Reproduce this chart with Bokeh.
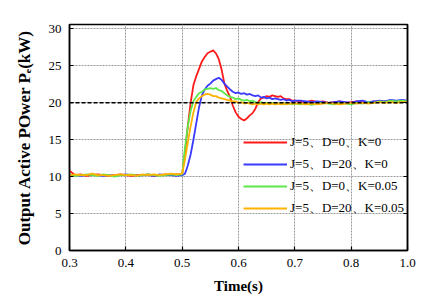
from bokeh.plotting import figure
from bokeh.models import (Span, Legend, LegendItem, LinearAxis, FixedTicker,
                          CustomJSTickFormatter, Range1d)
from bokeh.embed import file_html
from bokeh.resources import INLINE

# ---------------- data ----------------
time_s = [
    0.30, 0.31, 0.32, 0.33, 0.34, 0.35, 0.36, 0.37, 0.38, 0.39, 0.40,
    0.41, 0.42, 0.43, 0.44, 0.45, 0.46, 0.47, 0.48, 0.49, 0.50,
    0.505, 0.510, 0.515, 0.520, 0.525, 0.530, 0.535, 0.540, 0.545, 0.550,
    0.555, 0.560, 0.565, 0.570, 0.575, 0.580, 0.585, 0.590, 0.595, 0.600,
    0.605, 0.610, 0.615, 0.620, 0.625, 0.630, 0.635, 0.640, 0.645, 0.650,
    0.655, 0.660, 0.665, 0.670, 0.675, 0.680, 0.685, 0.690, 0.695, 0.700,
    0.71, 0.72, 0.73, 0.74, 0.75, 0.76, 0.77, 0.78, 0.79, 0.80,
    0.81, 0.82, 0.83, 0.84, 0.85, 0.86, 0.87, 0.88, 0.89, 0.90,
]

p_j5_d0_k0 = [
    10.8, 10.2, 10.3, 10.1, 10.2, 10.3, 10.2, 10.1, 10.2, 10.3, 10.2,
    10.1, 10.2, 10.2, 10.3, 10.1, 10.2, 10.3, 10.2, 10.3, 10.3,
    13.3, 16.8, 20.0, 22.4, 23.6, 24.6, 25.6, 26.2, 26.7, 26.9,
    27.1, 26.7, 25.9, 24.5, 22.6, 21.6, 20.8, 19.6, 18.7, 18.1,
    17.8, 17.6, 17.9, 18.3, 18.6, 19.2, 20.1, 20.6, 20.7, 20.9,
    20.8, 21.0, 20.9, 20.8, 20.9, 20.6, 20.5, 20.5, 20.3, 20.3,
    20.2, 20.1, 20.3, 20.1, 20.2, 20.0, 20.1, 20.2, 20.0, 20.1,
    20.2, 20.1, 20.0, 20.2, 20.1, 20.2, 20.3, 20.2, 20.3, 20.2,
]
p_j5_d20_k0 = [
    10.1, 10.2, 10.1, 10.2, 10.3, 10.2, 10.1, 10.2, 10.1, 10.2, 10.3,
    10.2, 10.1, 10.2, 10.2, 10.1, 10.3, 10.2, 10.2, 10.1, 10.2,
    10.4, 11.5, 13.0, 15.0, 17.2, 19.4, 21.0, 21.8, 22.3, 22.6,
    23.0, 23.2, 23.4, 23.1, 22.6, 22.2, 21.8, 21.5, 21.3, 21.4,
    21.2, 21.3, 21.1, 21.2, 21.0, 20.9, 21.0, 20.7, 20.8, 20.6,
    20.7, 20.5, 20.6, 20.5, 20.4, 20.5, 20.3, 20.4, 20.2, 20.3,
    20.3, 20.2, 20.1, 20.2, 20.1, 20.0, 20.1, 20.2, 20.1, 20.0,
    20.2, 20.3, 20.1, 20.2, 20.3, 20.2, 20.4, 20.3, 20.4, 20.3,
]
p_j5_d0_k005 = [
    10.3, 10.1, 10.2, 10.3, 10.2, 10.1, 10.3, 10.2, 10.0, 10.2, 10.2,
    10.3, 10.1, 10.2, 10.3, 10.2, 10.1, 10.2, 10.3, 10.2, 10.3,
    13.9, 16.8, 18.9, 20.2, 20.8, 21.3, 21.5, 21.8, 21.9, 22.0,
    21.9, 22.0, 21.7, 21.6, 21.3, 21.0, 20.8, 20.7, 20.5, 20.6,
    20.4, 20.3, 20.4, 20.2, 20.3, 20.1, 20.0, 20.1, 19.9, 20.0,
    19.9, 20.0, 19.8, 19.9, 19.9, 19.8, 20.0, 19.9, 19.8, 19.9,
    19.8, 19.9, 19.7, 19.9, 20.0, 19.9, 19.8, 20.0, 19.9, 19.8,
    20.0, 19.9, 20.1, 20.0, 20.2, 20.1, 20.3, 20.2, 20.3, 20.2,
]
p_j5_d20_k005 = [
    10.2, 10.3, 10.2, 10.2, 10.4, 10.2, 10.2, 10.1, 10.2, 10.3, 10.2,
    10.2, 10.1, 10.3, 10.2, 10.3, 10.2, 10.3, 10.4, 10.3, 10.4,
    12.3, 14.6, 16.8, 18.7, 20.1, 20.6, 20.9, 21.1, 21.2, 21.1,
    20.9, 20.9, 20.7, 20.6, 20.5, 20.4, 20.3, 20.2, 20.2, 20.0,
    20.1, 19.9, 20.0, 19.9, 19.8, 19.9, 19.8, 19.9, 19.8, 19.9,
    19.8, 19.9, 19.8, 19.9, 19.8, 19.9, 19.8, 19.9, 19.9, 19.9,
    19.9, 19.8, 19.9, 19.8, 19.9, 20.0, 19.9, 19.8, 19.9, 20.0,
    19.9, 20.0, 19.9, 20.0, 20.1, 20.0, 20.1, 20.0, 20.1, 20.1,
]

series_labels = ["J=5、D=0、K=0", "J=5、D=20、K=0", "J=5、D=0、K=0.05", "J=5、D=20、K=0.05"]
series_colors = ["#ff1a1a", "#3a3aff", "#5ee84a", "#ffb300"]

reference_power = 20

x_ticks = [0.3, 0.4, 0.5, 0.6, 0.7, 0.8, 0.9]
x_tick_labels = ["0.3", "0.4", "0.5", "0.6", "0.7", "0.8", "1.0"]
y_ticks = [0, 5, 10, 15, 20, 25, 30]

x_title = "Time(s)"
y_title = "Output Active POwer Pₑ(kW)"

# ---------------- figure ----------------
SERIF = "Liberation Serif"

p = figure(width=433, height=300, output_backend="svg", toolbar_location=None,
           x_range=Range1d(0.3, 0.9), y_range=Range1d(0, 30.6),
           min_border_left=69, min_border_right=26, min_border_top=24, min_border_bottom=50)
p.outline_line_color = "black"
p.outline_line_width = 1.5
p.background_fill_color = "white"
p.border_fill_color = "white"

p.xaxis.ticker = FixedTicker(ticks=x_ticks)
p.xaxis.major_label_overrides = {t: l for t, l in zip(x_ticks, x_tick_labels)}
p.yaxis.ticker = FixedTicker(ticks=y_ticks)
for ax in (p.xaxis[0], p.yaxis[0]):
    ax.axis_line_color = "black"
    ax.axis_line_width = 1.5
    ax.major_tick_in = 4
    ax.major_tick_out = 0
    ax.major_tick_line_color = "black"
    ax.major_tick_line_width = 1.2
    ax.minor_tick_line_color = None
    ax.major_label_text_font = SERIF
    ax.major_label_text_font_size = "13px"
    ax.major_label_text_color = "black"
    ax.axis_label_text_font = SERIF
    ax.axis_label_text_font_style = "bold"
    ax.axis_label_text_color = "black"
p.yaxis.major_label_standoff = 8
p.xaxis.major_label_standoff = 8
p.xaxis.axis_label = x_title
p.xaxis.axis_label_text_font_size = "15px"
p.xaxis.axis_label_standoff = 8
p.yaxis.axis_label = y_title
p.yaxis.axis_label_text_font_size = "17px"
p.yaxis.axis_label_standoff = 12

right_ax = LinearAxis(ticker=FixedTicker(ticks=y_ticks),
                      formatter=CustomJSTickFormatter(code="return ''"))
right_ax.axis_line_color = "black"
right_ax.axis_line_width = 1.5
right_ax.major_tick_in = 4
right_ax.major_tick_out = 0
right_ax.minor_tick_line_color = None
right_ax.major_label_text_font_size = "1px"
p.add_layout(right_ax, "right")

for g in (p.xgrid[0], p.ygrid[0]):
    g.grid_line_color = "#9a9a9a"
    g.grid_line_dash = "2 1"
    g.grid_line_width = 1
p.xgrid.ticker = FixedTicker(ticks=x_ticks)
p.ygrid.ticker = FixedTicker(ticks=y_ticks)

p.add_layout(Span(location=reference_power, dimension="width", line_color="black",
                  line_dash="4 2", line_width=1.5))

all_series = [p_j5_d0_k0, p_j5_d20_k0, p_j5_d0_k005, p_j5_d20_k005]
items = []
for vals, lab, col in zip(all_series, series_labels, series_colors):
    r = p.line(time_s, vals, line_color=col, line_width=1.8)
    items.append(LegendItem(label=lab, renderers=[r]))

legend = Legend(items=items, location=(174, 32), padding=0, margin=0, spacing=2,
                glyph_width=44, glyph_height=20, label_height=20, label_standoff=3,
                border_line_color=None, background_fill_alpha=0,
                label_text_font=SERIF, label_text_font_size="13px",
                label_text_color="black")
p.add_layout(legend, "center")

open("out.html", "w").write(file_html(p, INLINE))
